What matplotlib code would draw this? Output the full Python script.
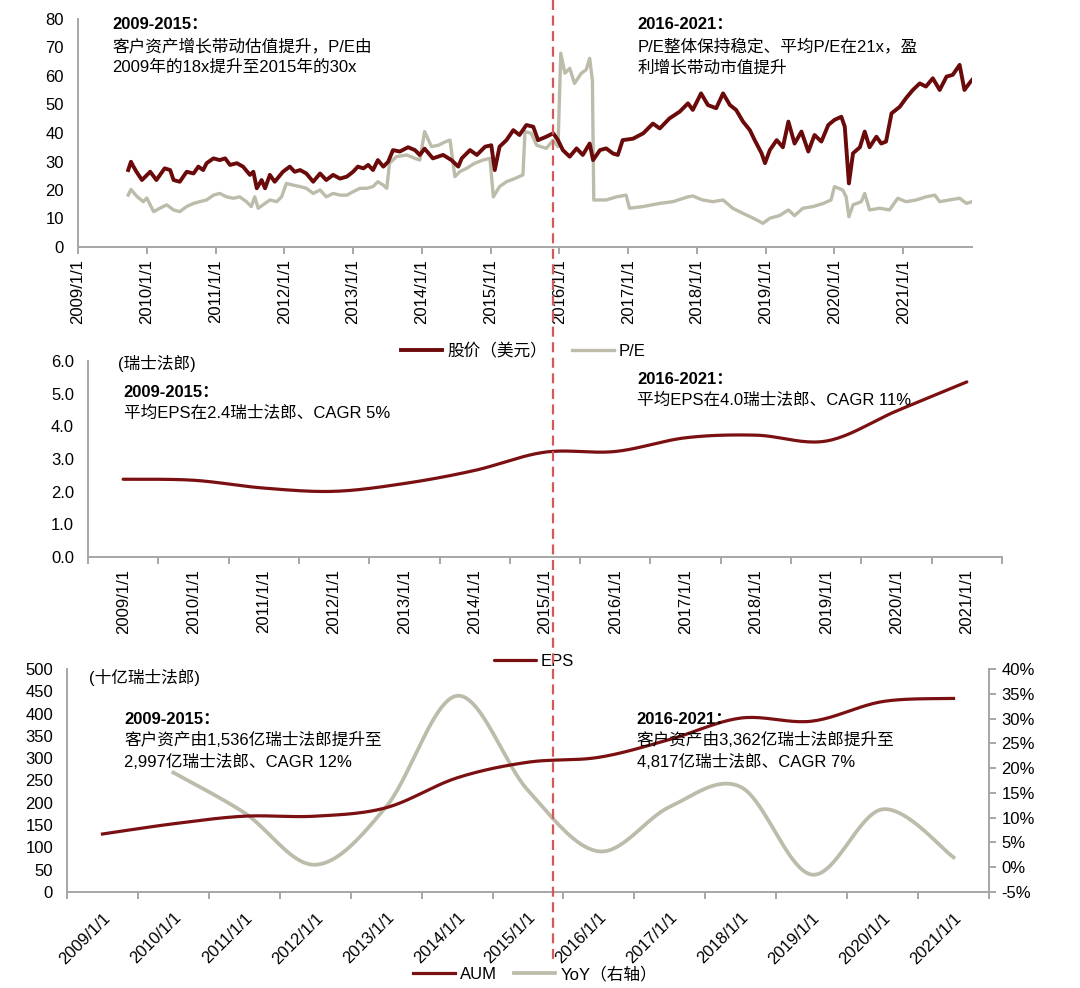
import numpy as np
import matplotlib
matplotlib.use("Agg")
import matplotlib.pyplot as plt
from matplotlib.lines import Line2D

plt.rcParams['font.family'] = ['Liberation Sans', 'Noto Sans CJK SC']
plt.rcParams['axes.unicode_minus'] = False

# ---- top panel: share price (USD) and P/E ----
price_t = [2009.73, 2009.77, 2009.80, 2009.85, 2009.93, 2010.05, 2010.14, 2010.26, 2010.34, 2010.39,
           2010.48, 2010.58, 2010.68, 2010.75, 2010.82, 2010.87, 2010.97, 2011.06, 2011.14, 2011.21,
           2011.31, 2011.40, 2011.50, 2011.55, 2011.60, 2011.67, 2011.72, 2011.79, 2011.86, 2011.98,
           2012.08, 2012.15, 2012.23, 2012.32, 2012.42, 2012.52, 2012.61, 2012.71, 2012.81, 2012.91,
           2013.00, 2013.07, 2013.15, 2013.22, 2013.29, 2013.36, 2013.44, 2013.51, 2013.58, 2013.68,
           2013.80, 2013.90, 2013.97, 2014.04, 2014.16, 2014.31, 2014.43, 2014.53, 2014.58, 2014.70,
           2014.80, 2014.92, 2015.01, 2015.06, 2015.13, 2015.23, 2015.33, 2015.42, 2015.52, 2015.62,
           2015.69, 2015.81, 2015.91, 2015.98, 2016.05, 2016.15, 2016.25, 2016.34, 2016.44, 2016.49,
           2016.59, 2016.68, 2016.78, 2016.85, 2016.92, 2017.07, 2017.22, 2017.36, 2017.46, 2017.60,
           2017.75, 2017.87, 2017.94, 2018.06, 2018.16, 2018.28, 2018.38, 2018.48, 2018.57, 2018.67,
           2018.77, 2018.84, 2018.94, 2018.99, 2019.06, 2019.16, 2019.25, 2019.33, 2019.42, 2019.52,
           2019.62, 2019.71, 2019.81, 2019.91, 2020.00, 2020.10, 2020.15, 2020.21, 2020.27, 2020.37,
           2020.44, 2020.51, 2020.61, 2020.68, 2020.75, 2020.83, 2020.95, 2021.04, 2021.14, 2021.24,
           2021.33, 2021.43, 2021.53, 2021.63, 2021.72, 2021.82, 2021.89, 2021.96, 2022.00]
price_v = [27.0, 29.9, 28.5, 26.4, 23.5, 26.4, 23.5, 27.6, 27.0, 23.5,
           22.9, 26.4, 25.8, 28.2, 27.0, 29.4, 31.1, 30.5, 31.1, 28.8,
           29.4, 28.2, 25.3, 26.4, 20.6, 23.5, 20.6, 25.3, 22.9, 26.4,
           28.2, 26.4, 27.0, 25.8, 22.9, 25.8, 23.5, 25.3, 24.0, 24.7,
           26.4, 28.2, 27.6, 28.8, 27.0, 30.5, 28.2, 29.9, 34.0, 33.5,
           35.0, 34.0, 32.3, 34.5, 31.1, 32.3, 30.5, 28.2, 31.1, 34.0,
           32.3, 35.2, 35.7, 27.0, 35.2, 37.5, 41.0, 39.3, 42.8, 42.2,
           37.5, 38.7, 39.9, 37.5, 34.0, 31.7, 34.6, 32.3, 36.3, 30.5,
           34.0, 34.6, 32.8, 32.3, 37.5, 38.0, 39.9, 43.3, 41.6, 45.1,
           47.5, 50.4, 48.1, 53.9, 49.8, 48.7, 53.9, 49.8, 48.1, 44.0,
           41.0, 37.5, 32.9, 29.4, 34.0, 37.5, 35.0, 44.0, 36.3, 40.5,
           33.5, 39.3, 37.0, 42.8, 44.6, 45.7, 42.2, 22.3, 32.9, 35.0,
           40.5, 35.0, 38.7, 36.3, 37.0, 46.9, 49.2, 52.2, 55.1, 57.4,
           56.3, 59.2, 55.1, 59.8, 60.4, 63.9, 55.1, 57.4, 58.6]

pe_t = [2009.73, 2009.77, 2009.85, 2009.95, 2010.00, 2010.10, 2010.19, 2010.29, 2010.39, 2010.48,
        2010.58, 2010.68, 2010.77, 2010.87, 2010.97, 2011.06, 2011.16, 2011.26, 2011.35, 2011.45,
        2011.52, 2011.57, 2011.62, 2011.72, 2011.79, 2011.89, 2011.96, 2012.03, 2012.13, 2012.23,
        2012.32, 2012.42, 2012.52, 2012.61, 2012.71, 2012.81, 2012.91, 2013.00, 2013.10, 2013.20,
        2013.29, 2013.36, 2013.44, 2013.49, 2013.53, 2013.63, 2013.78, 2013.90, 2013.97, 2014.04,
        2014.14, 2014.24, 2014.34, 2014.41, 2014.48, 2014.55, 2014.65, 2014.77, 2014.89, 2014.99,
        2015.04, 2015.13, 2015.23, 2015.35, 2015.47, 2015.50, 2015.59, 2015.67, 2015.81, 2015.91,
        2015.98, 2016.02, 2016.08, 2016.15, 2016.22, 2016.32, 2016.39, 2016.44, 2016.48, 2016.50,
        2016.68, 2016.83, 2016.97, 2017.02, 2017.22, 2017.46, 2017.65, 2017.87, 2017.94, 2018.08,
        2018.23, 2018.38, 2018.52, 2018.67, 2018.82, 2018.96, 2019.06, 2019.20, 2019.33, 2019.42,
        2019.54, 2019.69, 2019.84, 2019.95, 2020.00, 2020.12, 2020.17, 2020.21, 2020.27, 2020.39,
        2020.44, 2020.51, 2020.66, 2020.80, 2020.92, 2021.04, 2021.19, 2021.33, 2021.46, 2021.53,
        2021.67, 2021.82, 2021.92, 2022.00]
pe_v = [18.2, 20.2, 17.9, 15.9, 17.2, 12.4, 13.6, 14.8, 13.0, 12.4,
        14.2, 15.3, 15.9, 16.5, 18.2, 18.8, 17.6, 17.1, 17.6, 15.9,
        14.2, 17.6, 13.6, 15.3, 16.5, 15.9, 17.6, 22.3, 21.7, 21.2,
        20.6, 18.8, 20.0, 17.6, 18.8, 18.2, 18.2, 19.4, 20.6, 20.6,
        21.2, 22.9, 21.7, 20.6, 29.4, 31.7, 32.3, 31.1, 30.5, 40.5,
        35.2, 35.7, 36.9, 37.5, 24.7, 26.4, 27.6, 29.4, 30.5, 31.1,
        17.6, 21.2, 22.9, 24.0, 25.3, 40.5, 39.9, 35.7, 34.6, 37.5,
        35.2, 68.0, 61.0, 62.7, 57.4, 61.0, 62.2, 66.2, 58.5, 16.5,
        16.5, 17.6, 18.2, 13.6, 14.2, 15.3, 15.9, 17.6, 17.9, 16.5,
        15.9, 16.5, 13.6, 11.8, 10.1, 8.3, 10.1, 11.0, 13.0, 11.0,
        13.6, 14.2, 15.3, 16.5, 21.2, 20.0, 17.6, 10.6, 14.8, 15.9,
        18.8, 13.0, 13.6, 13.0, 17.1, 15.9, 16.5, 17.6, 18.2, 15.9,
        16.5, 17.1, 15.3, 15.9]

years_top = list(range(2009, 2022))

# ---- middle panel: EPS (CHF) ----
cat_years = ['2009/1/1', '2010/1/1', '2011/1/1', '2012/1/1', '2013/1/1', '2014/1/1', '2015/1/1',
             '2016/1/1', '2017/1/1', '2018/1/1', '2019/1/1', '2020/1/1', '2021/1/1']
eps = [2.38, 2.35, 2.11, 2.01, 2.25, 2.65, 3.21, 3.23, 3.65, 3.73, 3.55, 4.47, 5.36]

# ---- bottom panel: AUM (bn CHF) and YoY (%) ----
aum = [130, 153, 170, 170, 189, 256, 291, 302, 342, 390, 383, 427, 434]
yoy = [None, 19.1, 11.0, 0.5, 12.2, 34.6, 15.5, 3.2, 12.2, 16.2, -1.5, 11.7, 2.0]

RED = '#6B0A0A'
LINE_RED = '#7A1012'
GREY = '#BDBBAA'
SPINE = '#A6A6A6'
DASH = '#D45A5A'
FS = 12


def smooth(x, y, n=24):
    # Excel-like smoothed line (Catmull-Rom style Bezier through the points)
    x = np.asarray(x, float)
    y = np.asarray(y, float)
    m = len(x)
    xs, ys = [], []
    t = np.linspace(0, 1, n)
    for i in range(m - 1):
        i0, i3 = max(i - 1, 0), min(i + 2, m - 1)
        p0 = np.array([x[i], y[i]])
        p3 = np.array([x[i + 1], y[i + 1]])
        c1 = p0 + (np.array([x[i + 1], y[i + 1]]) - np.array([x[i0], y[i0]])) / 6
        c2 = p3 - (np.array([x[i3], y[i3]]) - np.array([x[i], y[i]])) / 6
        b = ((1 - t) ** 3)[:, None] * p0 + (3 * (1 - t) ** 2 * t)[:, None] * c1 \
            + (3 * (1 - t) * t ** 2)[:, None] * c2 + (t ** 3)[:, None] * p3
        xs.extend(b[:, 0])
        ys.extend(b[:, 1])
    return np.array(xs), np.array(ys)


def style(ax, sides=('left', 'bottom')):
    for s in ax.spines:
        ax.spines[s].set_visible(s in sides)
        ax.spines[s].set_color(SPINE)
        ax.spines[s].set_linewidth(1.4)
    ax.tick_params(axis='y', length=0, labelsize=FS, pad=10)
    ax.tick_params(axis='x', which='both', colors=SPINE, labelcolor='black', labelsize=FS, width=1.4)


fig = plt.figure(figsize=(10.8, 9.88), dpi=100)
W, H = 1080, 988


def box(l, t, r, b):
    return [l / W, 1 - b / H, (r - l) / W, (b - t) / H]


# ---------- top ----------
ax1 = fig.add_axes(box(78, 19, 972, 247))
style(ax1)
ax1.plot(price_t, price_v, color=RED, lw=2.8, label='股价（美元）', zorder=3)
ax1.plot(pe_t, pe_v, color=GREY, lw=2.4, label='P/E', zorder=2)
ax1.set_xlim(2009, 2022)
ax1.set_ylim(0, 80)
ax1.set_yticks(range(0, 81, 10))
ax1.set_xticks(years_top)
ax1.set_xticklabels([f'{y}/1/1' for y in years_top], rotation=90)
ax1.tick_params(axis='x', length=5, pad=4)
ax1.text(0.038, 0.975, '2009-2015：', transform=ax1.transAxes, fontsize=FS, fontweight='bold', va='center')
ax1.text(0.038, 0.88, '客户资产增长带动估值提升，P/E由', transform=ax1.transAxes, fontsize=FS, va='center')
ax1.text(0.038, 0.787, '2009年的18x提升至2015年的30x', transform=ax1.transAxes, fontsize=FS, va='center')
ax1.text(0.6255, 0.975, '2016-2021：', transform=ax1.transAxes, fontsize=FS, fontweight='bold', va='center')
ax1.text(0.6255, 0.88, 'P/E整体保持稳定、平均P/E在21x，盈', transform=ax1.transAxes, fontsize=FS, va='center')
ax1.text(0.6255, 0.787, '利增长带动市值提升', transform=ax1.transAxes, fontsize=FS, va='center')
fig.legend(*ax1.get_legend_handles_labels(), loc='center', bbox_to_anchor=(523 / W, 1 - 351 / H),
           ncol=2, frameon=False, fontsize=FS, handlelength=2.5, handletextpad=0.3, columnspacing=1.5)

# ---------- middle ----------
ax2 = fig.add_axes(box(88, 361, 1002, 557))
style(ax2)
xc = np.arange(len(cat_years))
sx, sy = smooth(xc, eps)
ax2.plot(sx, sy, color=LINE_RED, lw=2.3, label='EPS', solid_capstyle='round')
ax2.set_xlim(-0.5, len(cat_years) - 0.5)
ax2.set_ylim(0, 6)
ax2.set_yticks(np.arange(0, 6.01, 1))
ax2.set_yticklabels([f'{v:.1f}' for v in np.arange(0, 6.01, 1)])
ax2.set_xticks(xc)
ax2.set_xticklabels(cat_years, rotation=90)
ax2.set_xticks(np.arange(-0.5, len(cat_years)), minor=True)
ax2.tick_params(axis='x', which='major', length=0, pad=9)
ax2.tick_params(axis='x', which='minor', length=5)
ax2.text(0.033, 0.985, '(瑞士法郎)', transform=ax2.transAxes, fontsize=FS, va='center')
ax2.text(0.039, 0.84, '2009-2015：', transform=ax2.transAxes, fontsize=FS, fontweight='bold', va='center')
ax2.text(0.039, 0.735, '平均EPS在2.4瑞士法郎、CAGR 5%', transform=ax2.transAxes, fontsize=FS, va='center')
ax2.text(0.601, 0.905, '2016-2021：', transform=ax2.transAxes, fontsize=FS, fontweight='bold', va='center')
ax2.text(0.601, 0.80, '平均EPS在4.0瑞士法郎、CAGR 11%', transform=ax2.transAxes, fontsize=FS, va='center')
fig.legend(*ax2.get_legend_handles_labels(), loc='center', bbox_to_anchor=(534 / W, 1 - 661 / H),
           frameon=False, fontsize=FS, handlelength=2.5, handletextpad=0.3)

# ---------- bottom ----------
ax3 = fig.add_axes(box(67, 669, 989, 892))
style(ax3, sides=('left', 'bottom', 'right'))
ax4 = ax3.twinx()
for s in ax4.spines:
    ax4.spines[s].set_visible(s == 'right')
ax4.spines['right'].set_color(SPINE)
ax4.spines['right'].set_linewidth(1.4)
xc3 = np.arange(len(cat_years))
ax_x, ax_y = smooth(xc3, aum)
ax3.plot(ax_x, ax_y, color=LINE_RED, lw=2.3, label='AUM', zorder=3)
yx = [x for x, v in zip(xc3, yoy) if v is not None]
yv = [v for v in yoy if v is not None]
gx, gy = smooth(yx, yv)
ax4.plot(gx, gy, color=GREY, lw=2.7, label='YoY（右轴）', zorder=2)
ax3.set_zorder(ax4.get_zorder() + 1)
ax3.patch.set_visible(False)
ax3.set_xlim(-0.5, len(cat_years) - 0.5)
ax3.set_ylim(0, 500)
ax3.set_yticks(range(0, 501, 50))
ax4.set_ylim(-5, 40)
ax4.set_yticks(range(-5, 41, 5))
ax4.set_yticklabels([f'{v}%' for v in range(-5, 41, 5)])
ax4.tick_params(axis='y', length=5, colors=SPINE, labelcolor='black', labelsize=FS, width=1.4, pad=4)
ax3.set_xticks(xc3)
ax3.set_xticklabels(cat_years, rotation=45, ha='right', rotation_mode='anchor')
ax3.set_xticks(np.arange(-0.5, len(cat_years)), minor=True)
ax3.tick_params(axis='x', which='major', length=0, pad=13)
ax3.tick_params(axis='x', which='minor', length=5)
ax3.text(0.024, 0.96, '(十亿瑞士法郎)', transform=ax3.transAxes, fontsize=FS, va='center')
ax3.text(0.062, 0.775, '2009-2015：', transform=ax3.transAxes, fontsize=FS, fontweight='bold', va='center')
ax3.text(0.062, 0.68, '客户资产由1,536亿瑞士法郎提升至', transform=ax3.transAxes, fontsize=FS, va='center')
ax3.text(0.062, 0.583, '2,997亿瑞士法郎、CAGR 12%', transform=ax3.transAxes, fontsize=FS, va='center')
ax3.text(0.618, 0.775, '2016-2021：', transform=ax3.transAxes, fontsize=FS, fontweight='bold', va='center')
ax3.text(0.618, 0.68, '客户资产由3,362亿瑞士法郎提升至', transform=ax3.transAxes, fontsize=FS, va='center')
ax3.text(0.618, 0.583, '4,817亿瑞士法郎、CAGR 7%', transform=ax3.transAxes, fontsize=FS, va='center')
h1, l1 = ax3.get_legend_handles_labels()
h2, l2 = ax4.get_legend_handles_labels()
fig.legend(h1 + h2, l1 + l2, loc='center', bbox_to_anchor=(535 / W, 1 - 974 / H), ncol=2,
           frameon=False, fontsize=FS, handlelength=2.5, handletextpad=0.3, columnspacing=1.0)

# dividing line between the two periods, across all panels
fig.add_artist(Line2D([553 / W, 553 / W], [1.0, 1 - 960 / H], transform=fig.transFigure,
                      color=DASH, lw=1.6, dashes=(4.5, 2.5), zorder=10))

fig.savefig('out.png', dpi=100)
